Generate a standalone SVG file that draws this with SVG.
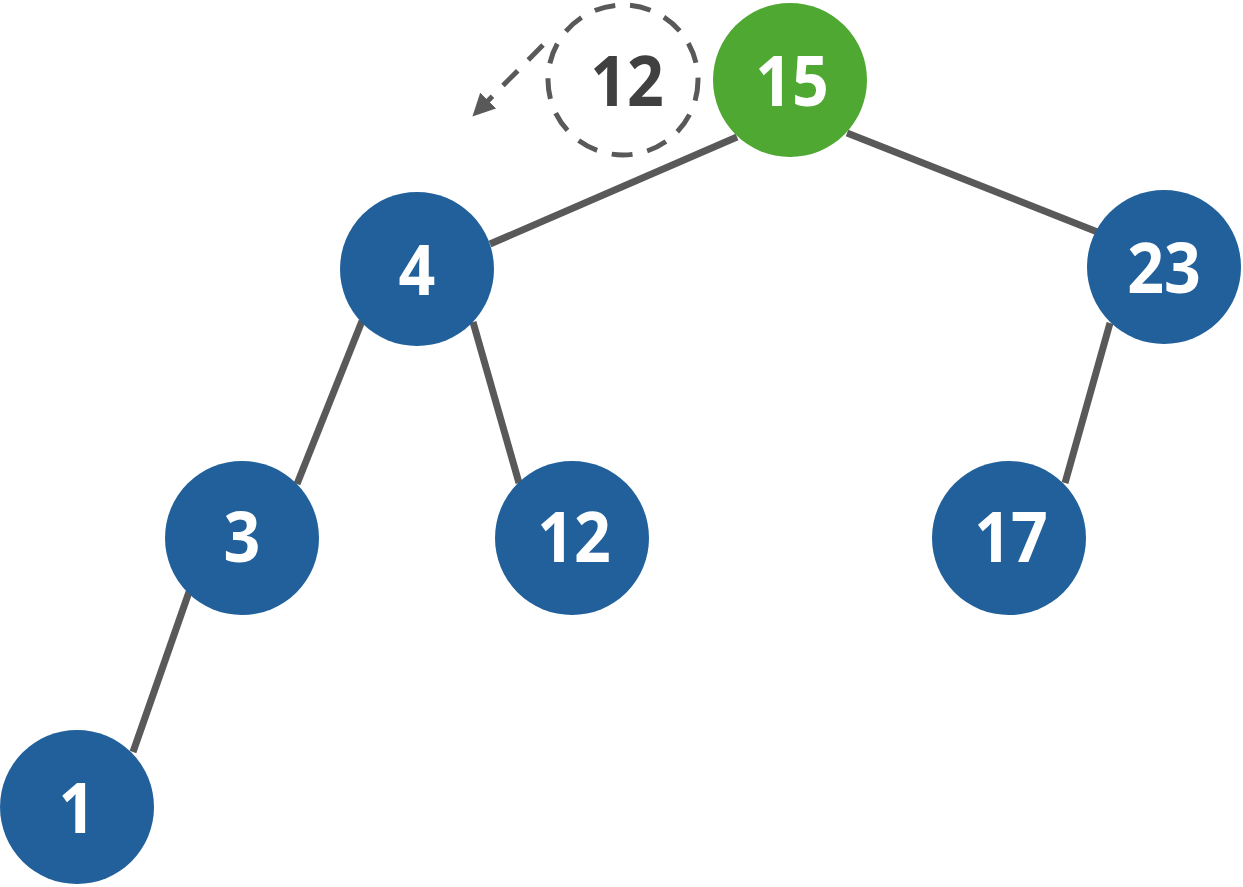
<svg xmlns="http://www.w3.org/2000/svg" width="1243" height="887" viewBox="0 0 1243 887">
<defs>
<style>
.n{fill:#21609a}
.g{fill:#4ea832}
.t{font-family:"Open Sans","DejaVu Sans",sans-serif;font-weight:bold;font-size:70px;fill:#ffffff;text-anchor:middle}
.td{fill:#404040}
.e{stroke:#595959;stroke-width:7;fill:none}
.d{stroke:#595959;stroke-width:5;fill:none;stroke-dasharray:21 15}
</style>
<marker id="ah" viewBox="0 0 10 10" refX="9" refY="5" markerWidth="4.5" markerHeight="4.5" orient="auto" markerUnits="strokeWidth">
<path d="M0,0 L10,5 L0,10 z" fill="#595959"/>
</marker>
</defs>
<rect width="1243" height="887" fill="#ffffff"/>
<g id="connectors">
<line class="e" x1="737" y1="137" x2="490" y2="244"/>
<line class="e" x1="847" y1="133" x2="1100" y2="233"/>
<line class="e" x1="362" y1="321" x2="297" y2="484"/>
<line class="e" x1="473" y1="322" x2="519" y2="483"/>
<line class="e" x1="1110" y1="323" x2="1065" y2="483"/>
<line class="e" x1="189" y1="592" x2="133" y2="752"/>
<line class="d" stroke-dasharray="13 8" x1="543" y1="45" x2="474" y2="115" marker-end="url(#ah)"/>
</g>
<g id="ghost12">
<circle class="d" cx="623" cy="80" r="75"/>
<text class="t td" transform="translate(627,106) scale(0.92,1)">12</text>
</g>
<g id="n15"><circle class="g" cx="790" cy="80" r="77"/><text class="t" transform="translate(792,106) scale(0.92,1)">15</text></g>
<g id="n4"><circle class="n" cx="417" cy="269" r="77"/><text class="t" transform="translate(417,295) scale(0.92,1)">4</text></g>
<g id="n23"><circle class="n" cx="1164" cy="267" r="77"/><text class="t" transform="translate(1164,293) scale(0.92,1)">23</text></g>
<g id="n3"><circle class="n" cx="242" cy="538" r="77"/><text class="t" transform="translate(242,562) scale(0.92,1)">3</text></g>
<g id="n12"><circle class="n" cx="572" cy="538" r="77"/><text class="t" transform="translate(574,562) scale(0.92,1)">12</text></g>
<g id="n17"><circle class="n" cx="1009" cy="538" r="77"/><text class="t" transform="translate(1011,562) scale(0.92,1)">17</text></g>
<g id="n1"><circle class="n" cx="77" cy="807" r="77"/><text class="t" transform="translate(77,833) scale(0.92,1)">1</text></g>
</svg>
